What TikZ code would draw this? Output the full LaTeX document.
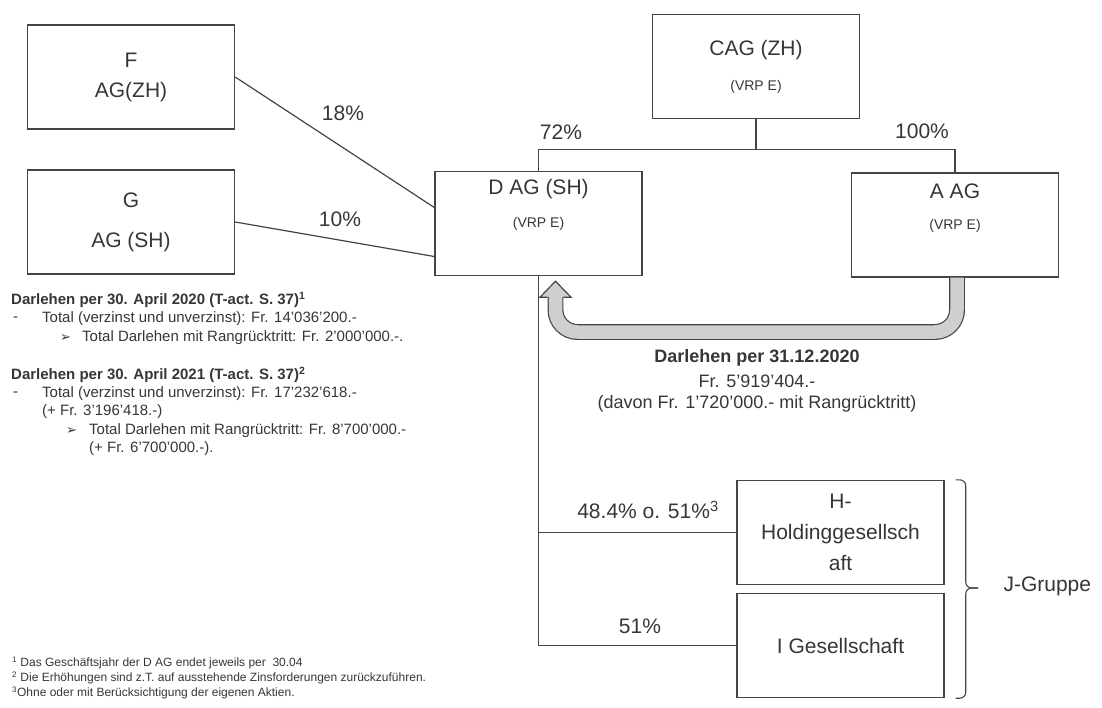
\documentclass[tikz,border=0pt]{standalone}
\usepackage{fontspec}
\setmainfont{Liberation Sans}
\newfontfamily\symfont{DejaVu Sans}
\usetikzlibrary{calc}
\definecolor{inkgray}{HTML}{363636}
\definecolor{linegray}{HTML}{444444}
\definecolor{arrowfill}{HTML}{CFCFCF}

\begin{document}
\begin{tikzpicture}[
    x=1pt, y=-1pt,
    every node/.style={text=inkgray},
    entity/.style={draw=linegray, line width=1.4pt, minimum width=207pt, minimum height=104pt, inner sep=0pt, align=center},
    bigtext/.style={font=\fontsize{21}{30}\selectfont},
    subtext/.style={font=\fontsize{14}{16}\selectfont},
    share/.style={font=\fontsize{21}{25}\selectfont},
    link/.style={draw=linegray, line width=1.2pt},
    loantext/.style={font=\fontsize{18}{22}\selectfont},
    note/.style={anchor=west, inner sep=0pt, font=\fontsize{15}{18}\selectfont},
    notehead/.style={anchor=west, inner sep=0pt, font=\fontsize{15}{18}\selectfont\bfseries},
    footnote/.style={anchor=west, inner sep=0pt, font=\fontsize{12}{14}\selectfont},
]

\useasboundingbox (0,0) rectangle (1102,707);

% Shareholder boxes
\node[entity, bigtext] (F) at (131,77) {F\\AG(ZH)};
\node[entity, bigtext] (G) at (131,222) {G\\[10pt]AG (SH)};
\node[entity] (CAG) at (756,66.5) {};
\node[bigtext] (CAGname) at ($(CAG.north)+(0,36)$) {CAG (ZH)};
\node[subtext] (CAGsub) at ($(CAG.north)+(0,73)$) {(VRP E)};

% Middle level
\node[entity] (D) at (538.5,223.5) {};
\node[bigtext] (Dname) at ($(D.north)+(0,18)$) {D AG (SH)};
\node[subtext] (Dsub) at ($(D.north)+(0,53)$) {(VRP E)};
\node[entity] (A) at (955,225) {};
\node[bigtext] (Aname) at ($(A.north)+(0,19)$) {A AG};
\node[subtext] (Asub) at ($(A.north)+(0,54)$) {(VRP E)};

% J-Gruppe
\node[entity, bigtext, font=\fontsize{21}{31}\selectfont] (H) at (840.5,532.5) {H-\\Holdinggesellsch\\aft};
\node[entity, bigtext] (I) at (840.5,645.5) {I Gesellschaft};

% Shares
\draw[link] (F.east) -- ($(D.west)+(0,-16)$);
\draw[link] (G.east) -- ($(D.west)+(0,33)$);
\node[share] (pF) at (343,113) {18\%};
\node[share] (pG) at (340,219) {10\%};

\draw[link] (CAG.south) -- ++(0,30) coordinate (fork);
\draw[link] (D.north) |- (fork) -| (A.north);
\node[share] (pD) at (561,132) {72\%};
\node[share] (pA) at (922,131) {100\%};

\draw[link] (D.south) |- (I.west);
\draw[link] (D.south |- H.west) -- (H.west);
\node[share] (pH) at (648,510) {48.4\% o. 51\%\textsuperscript{3}};
\node[share] (pI) at (640,626) {51\%};

% Loan arrow A -> D
\coordinate (loanstart) at ($(A.south)+(2,0)$);
\coordinate (loanend) at ($(D.south)+(17,21)$);
\coordinate (loanlow) at (0,332);
\draw[draw=linegray, line width=1.2pt, double=arrowfill, double distance=13.5pt, rounded corners=22pt]
    (loanstart) -- (loanstart |- loanlow) -- (loanend |- loanlow) -- (loanend);
\filldraw[fill=arrowfill, draw=linegray, line width=1.2pt, line join=miter]
    ($(loanend)+(-7.9,0)$) -- ($(loanend)+(-15.5,0)$) -- ($(loanend)+(0,-16)$)
    -- ($(loanend)+(15.5,0)$) -- ($(loanend)+(7.9,0)$);
\node[loantext, font=\fontsize{18}{22}\selectfont\bfseries] (loan1) at (757,358) {Darlehen per 31.12.2020};
\node[loantext] (loan2) at (757,381) {Fr. 5’919’404.-};
\node[loantext] (loan3) at (757,404) {(davon Fr. 1’720’000.- mit Rangrücktritt)};

% Brace
\coordinate (btop) at ($(H.north east)+(11,0)$);
\coordinate (bbot) at ($(I.south east)+(11,0)$);
\coordinate (btip) at (978,588);
\draw[linegray, line width=1.1pt, rounded corners=6pt] (btop) -- ++(10,0) |- (btip);
\draw[linegray, line width=1.1pt, rounded corners=6pt] (bbot) -- ++(10,0) |- (btip);
\node[bigtext, anchor=west] (J) at (1000,586) {J-Gruppe};

% Loan notes
\node[notehead] (n1) at (11,300) {Darlehen per 30. April 2020 (T-act. S. 37)\textsuperscript{1}};
\node[note] (n2) at (13,319) {-};
\node[note] (n3) at (42,319) {Total (verzinst und unverzinst): Fr. 14’036’200.-};
\node[note] (n4) at (60,338) {\symfont\fontsize{13}{15}\selectfont ➢};
\node[note] (n5) at (82,338) {Total Darlehen mit Rangrücktritt: Fr. 2’000’000.-.};
\node[notehead] (n6) at (11,375) {Darlehen per 30. April 2021 (T-act. S. 37)\textsuperscript{2}};
\node[note] (n7) at (13,394) {-};
\node[note] (n8) at (42,394) {Total (verzinst und unverzinst): Fr. 17’232’618.-};
\node[note] (n9) at (42,412) {(+ Fr. 3’196’418.-)};
\node[note] (n10) at (66,431) {\symfont\fontsize{13}{15}\selectfont ➢};
\node[note] (n11) at (89,431) {Total Darlehen mit Rangrücktritt: Fr. 8’700’000.-};
\node[note] (n12) at (89,449) {(+ Fr. 6’700’000.-).};

% Footnotes
\node[footnote] (f1) at (12,663) {\textsuperscript{1} Das Geschäftsjahr der D AG endet jeweils per~ 30.04};
\node[footnote] (f2) at (12,678) {\textsuperscript{2} Die Erhöhungen sind z.T. auf ausstehende Zinsforderungen zurückzuführen.};
\node[footnote] (f3) at (12,693) {\textsuperscript{3}Ohne oder mit Berücksichtigung der eigenen Aktien.};

\end{tikzpicture}
\end{document}
